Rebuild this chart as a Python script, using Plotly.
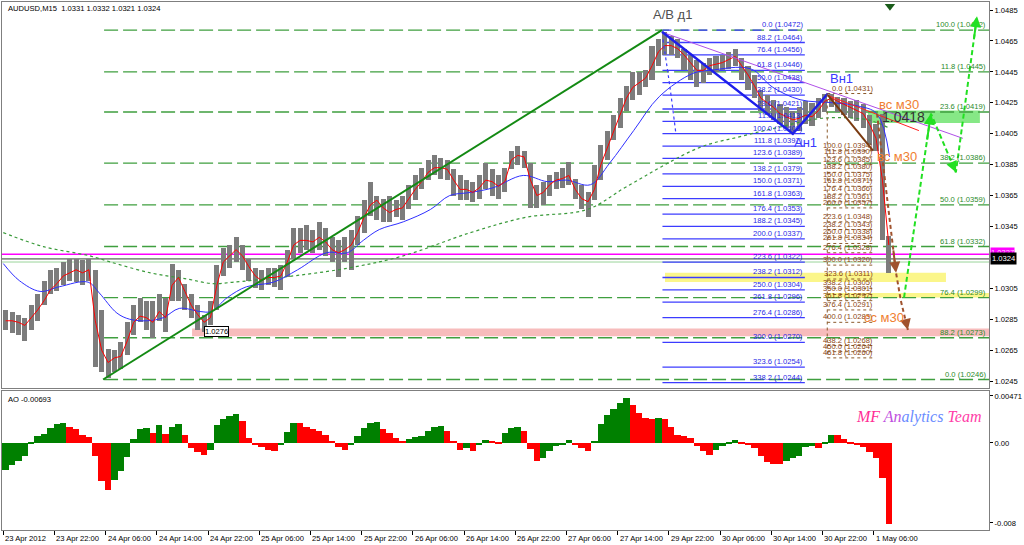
import plotly.graph_objects as go

# ---------------- price data: hourly aggregates of the M15 bars (4 bars per hour) ----------------
hour_high = [
    1.0291, 1.0290, 1.0288, 1.0286, 1.0294, 1.0301, 1.0310, 1.0317, 1.0318, 1.0322,
    1.0324, 1.0324, 1.0323, 1.0324, 1.0317, 1.0291, 1.0266, 1.0265, 1.0270, 1.0283,
    1.0294, 1.0299, 1.0297, 1.0297, 1.0301, 1.0299, 1.0321, 1.0317, 1.0308, 1.0301,
    1.0294, 1.0288, 1.0297, 1.0320, 1.0331, 1.0333, 1.0338, 1.0333, 1.0324, 1.0318,
    1.0317, 1.0318, 1.0318, 1.0320, 1.0330, 1.0344, 1.0344, 1.0346, 1.0343, 1.0348,
    1.0344, 1.0338, 1.0336, 1.0338, 1.0343, 1.0352, 1.0362, 1.0374, 1.0365, 1.0363,
    1.0365, 1.0362, 1.0365, 1.0372, 1.0378, 1.0383, 1.0388, 1.0391, 1.0389, 1.0388,
    1.0382, 1.0378, 1.0375, 1.0374, 1.0378, 1.0386, 1.0382, 1.0378, 1.0383, 1.0394,
    1.0397, 1.0394, 1.0386, 1.0372, 1.0374, 1.0378, 1.0380, 1.0383, 1.0387, 1.0376,
    1.0372, 1.0367, 1.0385, 1.0398, 1.0407, 1.0417, 1.0428, 1.0436, 1.0445, 1.0445,
    1.0446, 1.0462, 1.0466, 1.0471, 1.0468, 1.0466, 1.0460, 1.0456, 1.0453, 1.0451,
    1.0454, 1.0455, 1.0456, 1.0458, 1.0460, 1.0454, 1.0449, 1.0443, 1.0433, 1.0430,
    1.0427, 1.0424, 1.0422, 1.0420, 1.0422, 1.0426, 1.0425, 1.0428, 1.0431, 1.0431,
    1.0429, 1.0428, 1.0426, 1.0427, 1.0424, 1.0417, 1.0411, 1.0418, 1.0339]
hour_low = [
    1.0278, 1.0276, 1.0275, 1.0271, 1.0278, 1.0284, 1.0294, 1.0301, 1.0303, 1.0307,
    1.0310, 1.0309, 1.0307, 1.0310, 1.0254, 1.0251, 1.0247, 1.0251, 1.0253, 1.0262,
    1.0275, 1.0283, 1.0278, 1.0273, 1.0284, 1.0277, 1.0297, 1.0297, 1.0291, 1.0286,
    1.0278, 1.0277, 1.0281, 1.0291, 1.0313, 1.0318, 1.0322, 1.0317, 1.0310, 1.0305,
    1.0304, 1.0307, 1.0306, 1.0304, 1.0312, 1.0324, 1.0328, 1.0330, 1.0328, 1.0330,
    1.0326, 1.0322, 1.0312, 1.0322, 1.0317, 1.0333, 1.0341, 1.0352, 1.0349, 1.0348,
    1.0348, 1.0351, 1.0349, 1.0356, 1.0362, 1.0369, 1.0375, 1.0378, 1.0376, 1.0375,
    1.0365, 1.0362, 1.0362, 1.0361, 1.0363, 1.0369, 1.0365, 1.0363, 1.0367, 1.0382,
    1.0385, 1.0383, 1.0357, 1.0357, 1.0359, 1.0365, 1.0369, 1.0370, 1.0372, 1.0363,
    1.0356, 1.0351, 1.0362, 1.0375, 1.0388, 1.0401, 1.0409, 1.0420, 1.0427, 1.0430,
    1.0435, 1.0440, 1.0449, 1.0456, 1.0456, 1.0454, 1.0446, 1.0440, 1.0435, 1.0438,
    1.0443, 1.0445, 1.0446, 1.0447, 1.0449, 1.0440, 1.0433, 1.0428, 1.0420, 1.0417,
    1.0414, 1.0411, 1.0409, 1.0405, 1.0407, 1.0411, 1.0410, 1.0415, 1.0419, 1.0422,
    1.0419, 1.0417, 1.0415, 1.0413, 1.0409, 1.0398, 1.0394, 1.0336, 1.0315]
red_ma = [
    1.0284, 1.0284, 1.0283, 1.0281, 1.0286, 1.0291, 1.0297, 1.0304, 1.0308, 1.0313,
    1.0315, 1.0317, 1.0315, 1.0317, 1.0284, 1.0265, 1.0257, 1.0260, 1.0261, 1.0271,
    1.0283, 1.0287, 1.0286, 1.0283, 1.0290, 1.0286, 1.0307, 1.0312, 1.0303, 1.0294,
    1.0288, 1.0283, 1.0286, 1.0307, 1.0322, 1.0326, 1.0330, 1.0326, 1.0319, 1.0313,
    1.0310, 1.0312, 1.0312, 1.0313, 1.0322, 1.0333, 1.0336, 1.0336, 1.0335, 1.0338,
    1.0335, 1.0330, 1.0328, 1.0330, 1.0333, 1.0341, 1.0351, 1.0359, 1.0362, 1.0357,
    1.0354, 1.0356, 1.0357, 1.0363, 1.0369, 1.0374, 1.0380, 1.0383, 1.0383, 1.0382,
    1.0375, 1.0369, 1.0369, 1.0367, 1.0370, 1.0375, 1.0374, 1.0371, 1.0374, 1.0388,
    1.0391, 1.0390, 1.0375, 1.0365, 1.0367, 1.0372, 1.0375, 1.0376, 1.0378, 1.0369,
    1.0363, 1.0361, 1.0369, 1.0385, 1.0396, 1.0407, 1.0417, 1.0428, 1.0435, 1.0438,
    1.0441, 1.0449, 1.0458, 1.0462, 1.0462, 1.0460, 1.0456, 1.0451, 1.0446, 1.0446,
    1.0449, 1.0450, 1.0451, 1.0453, 1.0455, 1.0449, 1.0443, 1.0436, 1.0428, 1.0425,
    1.0422, 1.0418, 1.0416, 1.0414, 1.0415, 1.0417, 1.0416, 1.0420, 1.0426, 1.0428,
    1.0426, 1.0424, 1.0422, 1.0420, 1.0418, 1.0411, 1.0402, 1.0375, 1.0333]
ao_values = [
    -0.0027, -0.0022, -0.0018, -0.0013, 0.0001, 0.0007, 0.0009, 0.0015, 0.0019, 0.0020,
    0.0016, 0.0014, 0.0008, 0.0006, -0.0013, -0.0038, -0.0047, -0.0037, -0.0028, -0.0014,
    0.0004, 0.0014, 0.0015, 0.0010, 0.0018, 0.0009, 0.0016, 0.0019, 0.0008, -0.0005,
    -0.0009, -0.0012, -0.0007, 0.0018, 0.0024, 0.0027, 0.0029, 0.0022, 0.0005, -0.0001,
    -0.0004, -0.0007, -0.0008, -0.0002, 0.0011, 0.0020, 0.0020, 0.0016, 0.0014, 0.0012,
    0.0008, 0.0002, -0.0004, -0.0007, -0.0001, 0.0007, 0.0015, 0.0020, 0.0021, 0.0014,
    0.0010, 0.0005, 0.0002, 0.0004, 0.0006, 0.0007, 0.0012, 0.0016, 0.0017, 0.0012,
    0.0002, -0.0007, -0.0005, -0.0008, -0.0002, 0.0003, 0.0002, 0.0001, 0.0010, 0.0015,
    0.0016, 0.0012, -0.0006, -0.0018, -0.0015, -0.0008, -0.0003, -0.0001, 0.0003, -0.0001,
    -0.0005, -0.0008, 0.0002, 0.0019, 0.0028, 0.0034, 0.0040, 0.0045, 0.0038, 0.0030,
    0.0025, 0.0024, 0.0025, 0.0024, 0.0016, 0.0008, 0.0007, 0.0005, -0.0003, -0.0008,
    -0.0012, -0.0007, -0.0003, 0.0001, 0.0003, 0.0001, -0.0002, -0.0005, -0.0013, -0.0019,
    -0.0021, -0.0021, -0.0018, -0.0015, -0.0013, -0.0004, -0.0003, -0.0005, 0.0001, 0.0008,
    0.0008, 0.0004, 0.0001, -0.0001, -0.0004, -0.0009, -0.0015, -0.0035, -0.0081]

# moving averages read at M15 bar indices
blue_ma_bar = [0, 10, 23, 35, 53, 60, 71, 79, 90, 100, 110, 123, 130, 140, 152, 169, 184, 202, 215, 225,
               235, 250, 267, 279, 292, 306, 325, 340, 352, 367, 379, 394, 410, 431, 442, 467, 481, 498,
               519, 534, 546, 554]
blue_ma = [1.0321, 1.0310, 1.0303, 1.0306, 1.0309, 1.0302, 1.0289, 1.0285, 1.0284, 1.0286,
           1.0292, 1.0290, 1.0290, 1.0299, 1.0306, 1.0309, 1.0317, 1.0328, 1.0328, 1.0336,
           1.0343, 1.0348, 1.0356, 1.0365, 1.0367, 1.0370, 1.0378, 1.0374, 1.0375, 1.0372,
           1.0386, 1.0407, 1.0429, 1.0444, 1.0446, 1.0447, 1.0435, 1.0427, 1.0425, 1.0423,
           1.0418, 1.0390]
slow_ma_bar = [0, 25, 54, 67, 92, 115, 131, 144, 173, 215, 250, 292, 327, 365, 390, 435, 460, 484, 512, 540, 553]
slow_ma = [1.0341, 1.0332, 1.0326, 1.0322, 1.0315, 1.0311, 1.0308, 1.0309, 1.0312, 1.0318, 1.0326,
           1.0341, 1.0351, 1.0356, 1.0371, 1.0396, 1.0403, 1.0409, 1.0415, 1.0414, 1.0409]

time_labels = ["23 Apr 2012", "23 Apr 22:00", "24 Apr 06:00", "24 Apr 14:00", "24 Apr 22:00",
               "25 Apr 06:00", "25 Apr 14:00", "25 Apr 22:00", "26 Apr 06:00", "26 Apr 14:00",
               "26 Apr 22:00", "27 Apr 06:00", "27 Apr 14:00", "29 Apr 22:00", "30 Apr 06:00",
               "30 Apr 14:00", "30 Apr 22:00", "1 May 06:00"]
bars_per_label = 32
price_ticks = [1.0485, 1.0465, 1.0445, 1.0425, 1.0405, 1.0385, 1.0365, 1.0345, 1.0305, 1.0285, 1.0265, 1.0245]
ao_ticks = [0.00471, 0.0, -0.008]
ao_tick_text = ["0.00471", "0.00", "-0.008"]

# Fibonacci sets
main_fib_pct = ["100.0", "11.8", "23.6", "38.2", "50.0", "61.8", "76.4", "88.2", "0.0"]
main_fib_level = [1.0472, 1.0445, 1.0419, 1.0386, 1.0359, 1.0332, 1.0299, 1.0273, 1.0246]
blue_fib_pct = ["0.0", "88.2", "76.4", "61.8", "50.0", "38.2", "23.6", "11.8", "100.0", "111.8", "123.6",
                "138.2", "150.0", "161.8", "176.4", "188.2", "200.0", "223.6", "238.2", "250.0", "261.8",
                "276.4", "300.0", "323.6", "338.2"]
blue_fib_level = [1.0472, 1.0464, 1.0456, 1.0446, 1.0438, 1.0430, 1.0421, 1.0413, 1.0405, 1.0397, 1.0389,
                  1.0379, 1.0371, 1.0363, 1.0353, 1.0345, 1.0337, 1.0322, 1.0312, 1.0304, 1.0296,
                  1.0286, 1.0270, 1.0254, 1.0244]
brown_fib_pct = ["0.0", "100.0", "111.8", "123.6", "138.2", "150.0", "161.8", "176.4", "188.2", "200.0",
                 "223.6", "238.2", "250.0", "261.8", "276.4", "300.0", "323.6", "338.2", "350.0", "361.8",
                 "376.4", "400.0", "438.2", "450.0", "461.8"]
brown_fib_level = [1.0431, 1.0394, 1.0390, 1.0385, 1.0380, 1.0375, 1.0371, 1.0366, 1.0361, 1.0357,
                   1.0348, 1.0343, 1.0338, 1.0334, 1.0328, 1.0320, 1.0311, 1.0305, 1.0301, 1.0297,
                   1.0291, 1.0283, 1.0268, 1.0264, 1.0260]

# drawn analysis objects (bar index, price)
trend_up_bar, trend_up_price = [62.4, 411.7], [1.0246, 1.0472]
zigzag_bar, zigzag_price = [411.7, 493.5, 515.4], [1.0471, 1.0405, 1.0431]
brown_leg_bar, brown_leg_price = [515.4, 543.6], [1.0430, 1.0394]
purple_bar, purple_price = [413.6, 599.8], [1.0470, 1.0402]
red_tl_bar, red_tl_price = [514.8, 572.3], [1.0430, 1.0407]
arc_bar, arc_price = [412.3, 416.7, 420.4], [1.0466, 1.0435, 1.0405]
brown_path_bar, brown_path_price = [546.1, 558.0, 561.0, 565.4], [1.0418, 1.0315, 1.0297, 1.0278]
lime_path_bar, lime_path_price = [563.0, 579.8, 595.4, 608.6], [1.0299, 1.0418, 1.0380, 1.0481]
magenta_level, bid_level, light_level = 1.0327, 1.0324, 1.0322
pink_zone = (118, 1.0274, 1.0279)
yellow_zone1 = (413.6, 589.2, 1.0309, 1.0315)
yellow_zone2 = (513.6, 1.0299, 1.0302)
green_zone = (540.4, 610.4, 1.0412, 1.0420)
MAIN_FIB_X0, BLUE_FIB_X0, BLUE_FIB_X1, BROWN_FIB_X0, BROWN_FIB_X1 = 63, 412, 501, 515, 545

# ---------------- figure ----------------
FONT = "Liberation Sans, Arial, sans-serif"
X_RANGE = [-0.8, 616.1]
Y_RANGE = [1.02405, 1.04902]
AO_RANGE = [-0.0087, 0.0052]
bars_per_hour = 4
hour_x = [bars_per_hour * h + 1.5 for h in range(len(hour_high))]

fig = go.Figure()

fig.add_trace(go.Bar(x=hour_x, y=[h - l for h, l in zip(hour_high, hour_low)], base=hour_low,
                     width=3.2, marker=dict(color="#7c7c7c", line=dict(width=0)),
                     xaxis="x", yaxis="y", hoverinfo="skip"))


def line(xs, ys, color, width=1, dash="solid", shape="linear"):
    fig.add_trace(go.Scatter(x=xs, y=ys, mode="lines", xaxis="x", yaxis="y", hoverinfo="skip",
                             line=dict(color=color, width=width, dash=dash, shape=shape)))


line(slow_ma_bar, slow_ma, "#3a9a3a", 1.2, "dot", "spline")
line(blue_ma_bar, blue_ma, "#2f2fff", 1, "solid", "spline")
line(hour_x, red_ma, "#ff0000", 1)
line(trend_up_bar, trend_up_price, "#138a13", 2)
line(purple_bar, purple_price, "#b050e8", 1)
line(red_tl_bar, red_tl_price, "#ff2020", 1)
line(zigzag_bar, zigzag_price, "#1e1eea", 2.5)
line(brown_leg_bar, brown_leg_price, "#7a3a10", 2)
line(arc_bar, arc_price, "#3c3cff", 1.2, "dot", "spline")
line(brown_path_bar, brown_path_price, "#a0522d", 2, "4px,3px")
line(lime_path_bar, lime_path_price, "#22e022", 2, "5px,3px")

fig.add_trace(go.Scatter(x=[554.2], y=[1.04875], mode="markers", xaxis="x", yaxis="y",
                         marker=dict(symbol="triangle-down", size=9, color="#1a5c1a"), hoverinfo="skip"))

ao_colors = ["#008000" if i == 0 or v > ao_values[i - 1] else "#ff0000" for i, v in enumerate(ao_values)]
fig.add_trace(go.Bar(x=hour_x, y=ao_values, width=4, marker=dict(color=ao_colors, line=dict(width=0)),
                     xaxis="x2", yaxis="y2", hoverinfo="skip"))

shapes = []
ann = []


def hline(x0, x1, y, color, width=1, dash="solid"):
    shapes.append(dict(type="line", xref="x", yref="y", x0=x0, x1=x1, y0=y, y1=y, layer="below",
                       line=dict(color=color, width=width, dash=dash)))


def zone(x0, x1, y0, y1, color):
    shapes.append(dict(type="rect", xref="x", yref="y", x0=x0, x1=x1, y0=y0, y1=y1, layer="below",
                       fillcolor=color, line=dict(width=0)))


zone(pink_zone[0], X_RANGE[1], pink_zone[1], pink_zone[2], "#f7bcbc")
zone(yellow_zone1[0], yellow_zone1[1], yellow_zone1[2], yellow_zone1[3], "#fbf68a")
zone(yellow_zone2[0], X_RANGE[1], yellow_zone2[1], yellow_zone2[2], "#fbf68a")
zone(green_zone[0], green_zone[1], green_zone[2], green_zone[3], "#86e886")

hline(X_RANGE[0], X_RANGE[1], magenta_level, "#ff00ff", 1.5)
hline(X_RANGE[0], X_RANGE[1], light_level, "#9ad49a", 1)
hline(X_RANGE[0], X_RANGE[1], bid_level, "#304030", 1)

small = dict(family=FONT, size=7.6)
for pct, lvl in zip(main_fib_pct, main_fib_level):
    hline(MAIN_FIB_X0, X_RANGE[1], lvl, "#3f9f3f", 1.4, "14px,5px")
    ann.append(dict(x=X_RANGE[1] - 0.5, y=lvl, xref="x", yref="y", text=f"{pct} ({lvl:.4f})",
                    showarrow=False, xanchor="right", yanchor="bottom", yshift=-1,
                    font=dict(small, color="#2a8a2a")))
for i, (pct, lvl) in enumerate(zip(blue_fib_pct, blue_fib_level)):
    hline(BLUE_FIB_X0, BLUE_FIB_X1, lvl, "#3c3cff", 1.3, "dash" if i == 0 else "solid")
    ann.append(dict(x=BLUE_FIB_X1, y=lvl, xref="x", yref="y", text=f"{pct} ({lvl:.4f})",
                    showarrow=False, xanchor="right", yanchor="bottom", yshift=-1,
                    font=dict(small, color="#2828e6")))
for pct, lvl in zip(brown_fib_pct, brown_fib_level):
    hline(BROWN_FIB_X0, BROWN_FIB_X1, lvl, "#8b5a2b", 1, "dot")
    ann.append(dict(x=BROWN_FIB_X1, y=lvl, xref="x", yref="y", text=f"{pct} ({lvl:.4f})",
                    showarrow=False, xanchor="right", yanchor="bottom", yshift=-1,
                    font=dict(small, color="#8b4513")))
shapes.append(dict(type="line", xref="x", yref="y", x0=BROWN_FIB_X0, x1=BROWN_FIB_X0,
                   y0=brown_fib_level[0], y1=brown_fib_level[-1], line=dict(color="#8b5a2b", width=1, dash="dot")))


def arrowheads(xs, ys, color):
    for i in range(1, len(xs)):
        tx = xs[i - 1] + 0.85 * (xs[i] - xs[i - 1])
        ty = ys[i - 1] + 0.85 * (ys[i] - ys[i - 1])
        ann.append(dict(x=xs[i], y=ys[i], ax=tx, ay=ty, xref="x", yref="y", axref="x", ayref="y",
                        text="", showarrow=True, arrowhead=2, arrowsize=1.1, arrowwidth=2, arrowcolor=color))


arrowheads(brown_path_bar, brown_path_price, "#a0522d")
arrowheads(lime_path_bar, lime_path_price, "#22e022")


def label(x, y, text, color, size=13, **kw):
    ann.append(dict(x=x, y=y, xref="x", yref="y", text=text, showarrow=False,
                    font=dict(family=FONT, size=size, color=color), **kw))


label(418, 1.0482, "A/B д1", "#505050", 13)
label(523.6, 1.0441, "Вн1", "#3a3aff", 13)
label(501.7, 1.0399, "Ан1", "#3a3aff", 13)
label(559.8, 1.0424, "вс м30", "#f08030", 13)
label(558.6, 1.0390, "вс м30", "#f08030", 13)
label(550.4, 1.0286, "сс м30", "#f08030", 13)
label(562.5, 1.0416, "1.0418", "#333333", 14)
ann.append(dict(x=125.5, y=1.0277, xref="x", yref="y", text="1.0276", showarrow=False, xanchor="left",
                font=dict(small, color="black"), bgcolor="white", bordercolor="black", borderwidth=1, borderpad=0))

# right-axis price markers
ann.append(dict(x=1, y=1.0328, xref="paper", yref="y", text="1.0327", showarrow=False, xanchor="left",
                xshift=1, font=dict(small, color="#ffd0ff"), bgcolor="#ff00ff", borderpad=0))
ann.append(dict(x=1, y=bid_level, xref="paper", yref="y", text="1.0324", showarrow=False, xanchor="left",
                xshift=1, font=dict(small, color="white"), bgcolor="black", borderpad=1))

# titles
ann.append(dict(x=0.004, y=0.9886, xref="paper", yref="paper", text="AUDUSD,M15 \u00a01.0331 1.0332 1.0321 1.0324",
                showarrow=False, xanchor="left", yanchor="middle", font=dict(small, color="black")))
ann.append(dict(x=0.004, y=0.248, xref="paper", yref="paper", text="AO -0.00693",
                showarrow=False, xanchor="left", yanchor="middle", font=dict(small, color="black")))
ann.append(dict(x=0.929, y=0.214, xref="paper", yref="paper",
                text="<i><span style='color:#ff2d95'>MF</span> <span style='color:#c050e0'>An</span>"
                     "<span style='color:#6a8cff'>alytics</span> <span style='color:#ff40a8'>Team</span></i>",
                showarrow=False, xanchor="center", yanchor="middle",
                font=dict(family="Liberation Serif, DejaVu Serif, serif", size=16)))

tick_bars = [bars_per_label * i for i in range(len(time_labels))]
for xb, t in zip(tick_bars, time_labels):
    ann.append(dict(x=xb, y=0, xref="x2", yref="paper", text=t, showarrow=False, xanchor="left",
                    yanchor="top", xshift=0, yshift=-2, font=dict(small, color="black")))

axis_common = dict(showgrid=False, zeroline=False, showline=True, mirror=True, linecolor="#7f7f7f", linewidth=1)
fig.update_layout(
    width=1024, height=545, margin=dict(l=2, r=35, t=2, b=15),
    paper_bgcolor="white", plot_bgcolor="white", showlegend=False, bargap=0,
    xaxis=dict(axis_common, domain=[0, 1], range=X_RANGE, anchor="y", showticklabels=False, ticks=""),
    xaxis2=dict(axis_common, domain=[0, 1], range=X_RANGE, anchor="y2", matches="x",
                tickvals=tick_bars, ticktext=[""] * len(tick_bars), ticks="outside", ticklen=4,
                tickcolor="black"),
    yaxis=dict(axis_common, domain=[0.2689, 1], range=Y_RANGE, anchor="x", side="right",
               tickvals=price_ticks, ticktext=[f"{p:.4f}" for p in price_ticks], ticks="outside",
               ticklen=3, tickcolor="black", tickfont=dict(small, color="black")),
    yaxis2=dict(axis_common, domain=[0, 0.2633], range=AO_RANGE, anchor="x2", side="right",
                tickvals=ao_ticks, ticktext=ao_tick_text, ticks="outside", ticklen=3, tickcolor="black",
                tickfont=dict(small, color="black")),
    shapes=shapes, annotations=ann,
)

fig.write_html("out.html", config={"displayModeBar": False},
               post_script="document.body.style.margin='0px';document.body.style.overflow='hidden';")
